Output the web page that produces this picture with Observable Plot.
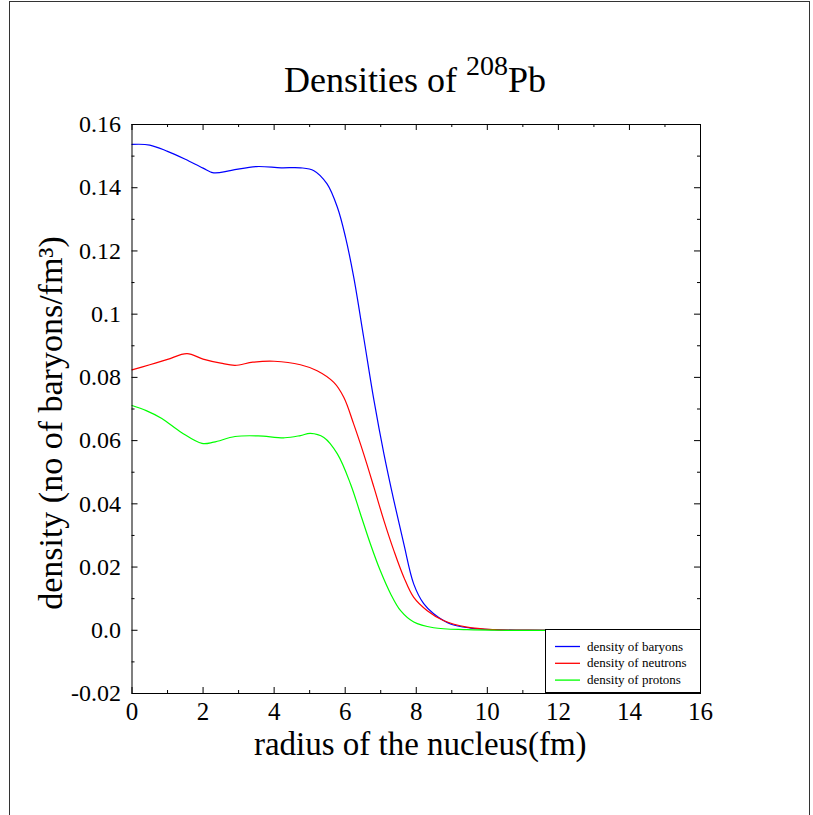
<!DOCTYPE html>
<html>
<head>
<meta charset="utf-8">
<script src="https://cdn.jsdelivr.net/npm/d3@7"></script>
<script src="https://cdn.jsdelivr.net/npm/@observablehq/plot@0.6"></script>
<style>
  html, body { margin: 0; padding: 0; background: #fff; overflow: hidden; }
  #wrap { position: relative; width: 813px; height: 815px; overflow: hidden; font-family: "Liberation Serif", "DejaVu Serif", serif; }
  #outer { position: absolute; left: 9px; top: 1px; width: 801px; height: 840px; border: 1px solid #333; box-sizing: border-box; }
  #chart { position: absolute; left: 0; top: 0; }
  #chart svg, #chart svg text { font-family: "Liberation Serif", "DejaVu Serif", serif !important; }
  #title { position: absolute; left: 0; width: 830px; top: 62px; text-align: center; font-size: 36px; line-height: 1; color: #000; white-space: nowrap; }
  #title sup { font-size: 28px; line-height: 0; vertical-align: 17px; }
  #legend { position: absolute; left: 545px; top: 629px; width: 156px; height: 64px; box-sizing: border-box; border: 1px solid #000; background: #fff; }
  #legend svg { position: absolute; left: 0; top: 0; }
  #legend text { font-family: "Liberation Serif", "DejaVu Serif", serif; font-size: 13px; fill: #000; }
</style>
</head>
<body>
<div id="wrap">
  <div id="outer"></div>
  <div id="chart"></div>
  <div id="title">Densities of <sup>208</sup>Pb</div>
  <div id="legend"></div>
</div>
<script>
// ---- data ----
const baryonR = [0, 0.5, 1.0, 1.5, 2.0, 2.3, 2.8, 3.5, 4.2, 4.74, 5.12, 5.49, 5.78, 6.01, 6.24, 6.52, 6.81, 7.09, 7.37, 7.65, 7.93, 8.21, 8.49, 8.96, 9.53, 10.2, 11, 12, 14, 16];
const baryonD = [0.1537, 0.1535, 0.1515, 0.1490, 0.1462, 0.1447, 0.1455, 0.1467, 0.1463, 0.1463, 0.1454, 0.1412, 0.1338, 0.1243, 0.1117, 0.0927, 0.0727, 0.0558, 0.0410, 0.0273, 0.0146, 0.0084, 0.0052, 0.0020, 0.0007, 0.0002, 0.00005, 0, 0, 0];

const neutronR = [0, 0.5, 1.0, 1.55, 2.0, 2.5, 2.9, 3.4, 4.0, 4.74, 5.21, 5.68, 5.96, 6.24, 6.52, 6.81, 7.09, 7.37, 7.65, 7.93, 8.31, 8.78, 9.43, 10.2, 11, 12, 14, 16];
const neutronD = [0.0824, 0.0840, 0.0857, 0.0875, 0.0858, 0.0845, 0.0838, 0.0848, 0.0851, 0.0840, 0.0821, 0.0784, 0.0737, 0.0652, 0.0558, 0.0452, 0.0347, 0.0252, 0.0168, 0.0104, 0.0062, 0.0030, 0.0010, 0.0002, 0.00005, 0, 0, 0];

const protonR = [0, 0.4, 0.84, 1.4, 1.97, 2.3, 2.9, 3.55, 4.3, 4.74, 5.02, 5.40, 5.78, 6.15, 6.43, 6.71, 6.99, 7.28, 7.56, 7.93, 8.49, 9.43, 10.5, 12, 14, 16];
const protonD = [0.0711, 0.0695, 0.0670, 0.0625, 0.0591, 0.0595, 0.0613, 0.0615, 0.0609, 0.0616, 0.0623, 0.0610, 0.0558, 0.0463, 0.0368, 0.0273, 0.0188, 0.0115, 0.0062, 0.0026, 0.0008, 0.0002, 0, 0, 0, 0];

const seriesNames = ["density of baryons", "density of neutrons", "density of protons"];
const seriesColors = ["#0000ff", "#ff0000", "#00ff00"];

const xTicks = [0, 2, 4, 6, 8, 10, 12, 14, 16];
const xMinorTicks = [1, 3, 5, 7, 9, 11, 13, 15];
const yTicks = [-0.02, 0, 0.02, 0.04, 0.06, 0.08, 0.1, 0.12, 0.14, 0.16];
const yTickLabels = ["-0.02", "0.0", "0.02", "0.04", "0.06", "0.08", "0.1", "0.12", "0.14", "0.16"];
const yMinorTicks = [-0.01, 0.01, 0.03, 0.05, 0.07, 0.09, 0.11, 0.13, 0.15];

const xLabel = "radius of the nucleus(fm)";
const yLabel = "density (no of baryons/fm\u00B3)";

// ---- build table ----
const rows = [];
[[baryonR, baryonD], [neutronR, neutronD], [protonR, protonD]].forEach(([R, D], s) => {
  R.forEach((r, i) => rows.push({series: seriesNames[s], r, d: D[i]}));
});
const yLabelMap = new Map(yTicks.map((t, i) => [t, yTickLabels[i]]));

// ---- layout ----
const W = 813, H = 815;
const mL = 131.5, mR = 113, mT = 124, mB = 122;
const pw = W - mL - mR, ph = H - mT - mB;
const major = 6, minor = 3;
const serif = '"Liberation Serif", "DejaVu Serif", serif';

const chart = Plot.plot({
  width: W,
  height: H,
  marginLeft: mL,
  marginRight: mR,
  marginTop: mT,
  marginBottom: mB,
  style: {fontFamily: serif, background: "transparent", color: "#000"},
  x: {domain: [0, 16]},
  y: {domain: [-0.02, 0.16]},
  color: {domain: seriesNames, range: seriesColors},
  marks: [
    Plot.line(rows, {x: "r", y: "d", z: "series", stroke: "series", strokeWidth: 1.2, curve: "catmull-rom"}),
    Plot.frame({stroke: "#000", strokeWidth: 1}),
    // ticks (inward, all four sides)
    Plot.tickX(xTicks, {x: d => d, insetTop: ph - major, stroke: "#000"}),
    Plot.tickX(xTicks, {x: d => d, insetBottom: ph - major, stroke: "#000"}),
    Plot.tickX(xMinorTicks, {x: d => d, insetTop: ph - minor, stroke: "#000"}),
    Plot.tickX(xMinorTicks, {x: d => d, insetBottom: ph - minor, stroke: "#000"}),
    Plot.tickY(yTicks, {y: d => d, insetRight: pw - major, stroke: "#000"}),
    Plot.tickY(yTicks, {y: d => d, insetLeft: pw - major, stroke: "#000"}),
    Plot.tickY(yMinorTicks, {y: d => d, insetRight: pw - minor, stroke: "#000"}),
    Plot.tickY(yMinorTicks, {y: d => d, insetLeft: pw - minor, stroke: "#000"}),
    // tick labels
    Plot.axisX({ticks: xTicks, tickSize: 0, tickPadding: 9, fontSize: 25, fontFamily: serif, label: null, tickFormat: d => String(d)}),
    Plot.axisY({ticks: yTicks, tickSize: 0, tickPadding: 11, fontSize: 24, fontFamily: serif, label: null, tickFormat: d => yLabelMap.get(d)}),
    // axis titles
    Plot.text([xLabel], {frameAnchor: "bottom", text: d => d, textAnchor: "middle", lineAnchor: "middle", dy: 51, dx: 4, fontSize: 33, fontFamily: serif, fill: "#000"}),
    Plot.text([yLabel], {frameAnchor: "left", text: d => d, textAnchor: "middle", lineAnchor: "middle", rotate: -90, dx: -81, dy: 14, fontSize: 34, fontFamily: serif, fill: "#000"})
  ]
});
document.getElementById("chart").appendChild(chart);

// ---- legend (small svg inside a bordered box) ----
const ns = "http://www.w3.org/2000/svg";
const lsvg = document.createElementNS(ns, "svg");
lsvg.setAttribute("width", 154);
lsvg.setAttribute("height", 62);
seriesNames.forEach((name, i) => {
  const cy = 16.5 + i * 16.8;
  const ln = document.createElementNS(ns, "line");
  ln.setAttribute("x1", 9); ln.setAttribute("x2", 34);
  ln.setAttribute("y1", cy); ln.setAttribute("y2", cy);
  ln.setAttribute("stroke", seriesColors[i]);
  ln.setAttribute("stroke-width", 1.3);
  const tx = document.createElementNS(ns, "text");
  tx.setAttribute("x", 41);
  tx.setAttribute("y", cy);
  tx.setAttribute("dy", "0.32em");
  tx.textContent = name;
  lsvg.appendChild(ln);
  lsvg.appendChild(tx);
});
document.getElementById("legend").appendChild(lsvg);
</script>
</body>
</html>
